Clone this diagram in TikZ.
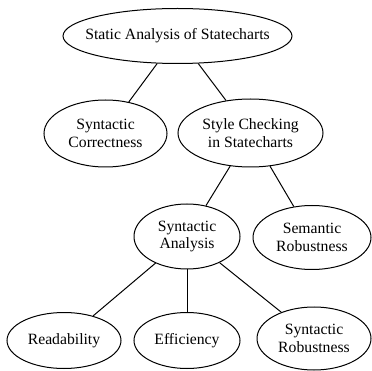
\documentclass[tikz,border=0pt]{standalone}
\usepackage{fontspec}
\setmainfont{Liberation Serif}
\usetikzlibrary{shapes.geometric}
\begin{document}
\begin{tikzpicture}[x=1pt,y=-1pt,
  topic/.style={ellipse, draw, line width=1pt, inner sep=0pt},
  txt/.style={align=center, inner sep=0pt, font=\fontsize{15.7}{17.5}\selectfont},
  link/.style={line width=1pt}]
\useasboundingbox (0,0) rectangle (372,371);
\node[topic, minimum width=229, minimum height=55] (root) at (177.5,36) {};
\node[txt] (rootT) at (root.center) {Static Analysis of Statecharts};
\node[topic, minimum width=123, minimum height=67] (sc) at (105.5,133.5) {};
\node[txt] (scT) at (sc.center) {Syntactic\\Correctness};
\node[topic, minimum width=145, minimum height=68] (style) at (250.5,133) {};
\node[txt] (styleT) at (style.center) {Style Checking\\in Statecharts};
\node[topic, minimum width=106, minimum height=65] (sa) at (187,236.5) {};
\node[txt] (saT) at (sa.center) {Syntactic\\Analysis};
\node[topic, minimum width=118, minimum height=64] (semr) at (312,237.5) {};
\node[txt] (semrT) at (semr.center) {Semantic\\Robustness};
\node[topic, minimum width=114, minimum height=56] (read) at (64,340.5) {};
\node[txt] (readT) at (read.center) {Readability};
\node[topic, minimum width=106, minimum height=56] (eff) at (187,340.5) {};
\node[txt] (effT) at (eff.center) {Efficiency};
\node[topic, minimum width=114, minimum height=63] (synr) at (314,338.5) {};
\node[txt] (synrT) at (synr.center) {Syntactic\\Robustness};
\draw[link] (root) -- (sc);
\draw[link] (root) -- (style);
\draw[link] (style) -- (sa);
\draw[link] (style) -- (semr);
\draw[link] (sa) -- (read);
\draw[link] (sa) -- (eff);
\draw[link] (sa) -- (synr);
\end{tikzpicture}
\end{document}
